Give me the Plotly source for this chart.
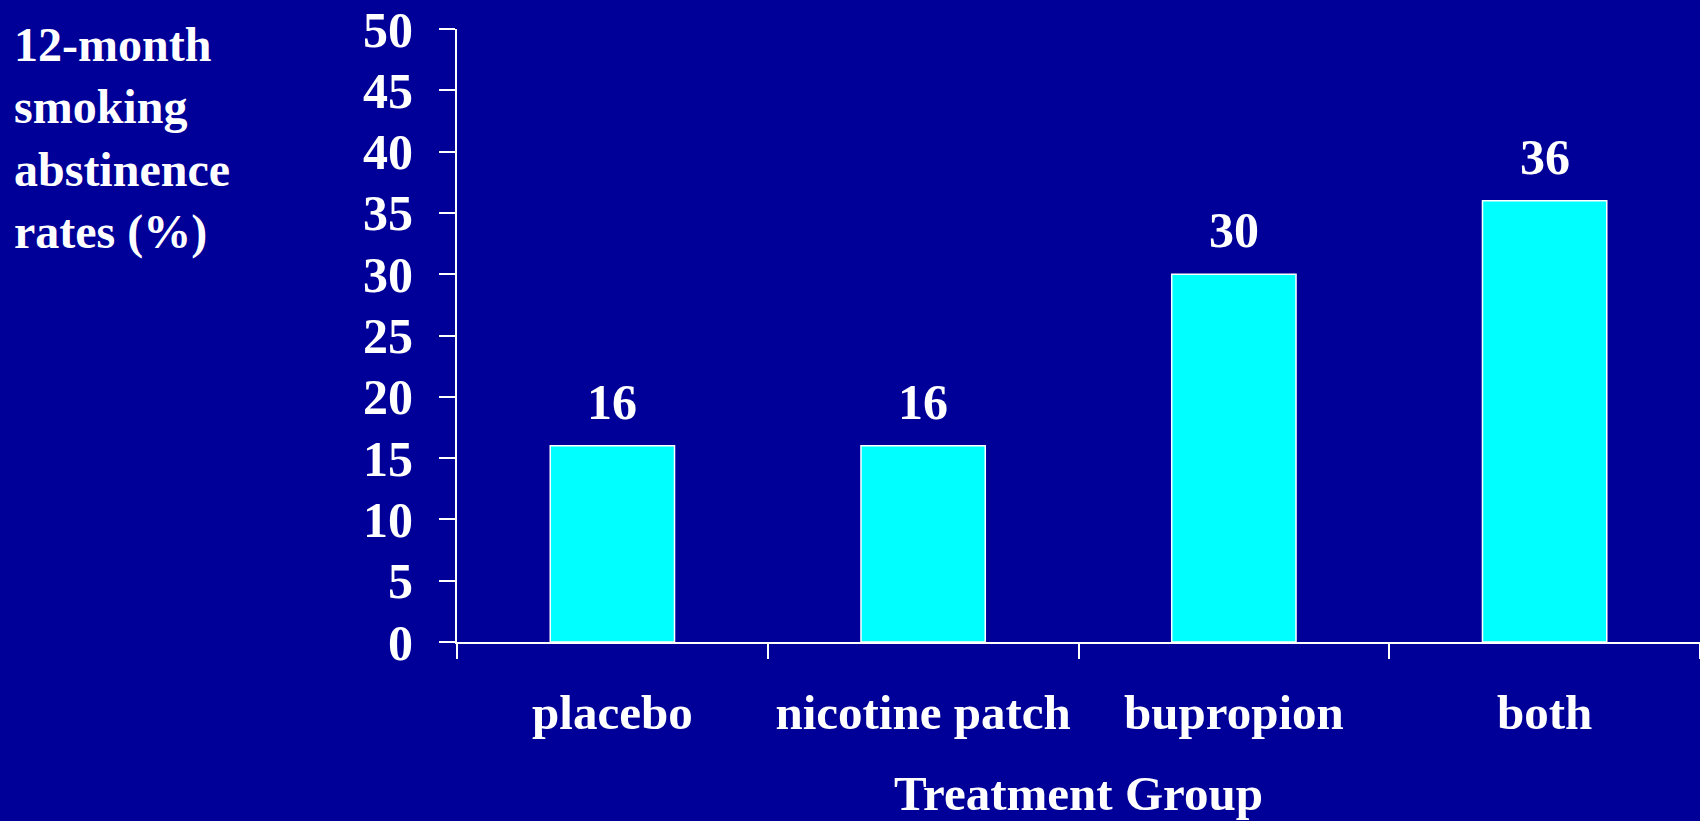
import plotly.graph_objects as go

categories = ["placebo", "nicotine patch", "bupropion", "both"]
rates = [16, 16, 30, 36]
y_ticks = [0, 5, 10, 15, 20, 25, 30, 35, 40, 45, 50]

BG = "rgb(0,0,153)"
FONT = "Liberation Serif, Times New Roman, serif"

fig = go.Figure()
fig.add_trace(go.Bar(
    x=categories, y=rates, width=0.4,
    marker=dict(color="rgb(0,255,255)", line=dict(color="white", width=1.5)),
    hoverinfo="x+y",
))

for c, v in zip(categories, rates):
    fig.add_annotation(x=c, y=v, text=f"<b>{v}</b>", showarrow=False,
                       xanchor="center", yanchor="bottom", yshift=14,
                       font=dict(family=FONT, size=50, color="white"))

fig.add_annotation(xref="paper", yref="paper", x=-0.358, y=1.021,
                   xanchor="left", yanchor="top", align="left", showarrow=False,
                   text="<b>12-month<br>smoking<br>abstinence<br>rates (%)</b>",
                   font=dict(family=FONT, size=48, color="white"))

fig.update_layout(
    width=1700, height=821,
    paper_bgcolor=BG, plot_bgcolor=BG,
    margin=dict(l=457, r=0, t=29, b=176),
    showlegend=False,
    font=dict(family=FONT, color="white"),
    bargap=0.6,
)
fig.update_xaxes(
    type="category", tickson="boundaries",
    showline=True, linecolor="white", linewidth=2,
    ticks="outside", ticklen=15, tickwidth=2, tickcolor="white",
    tickfont=dict(family=FONT, size=49, color="white"),
    ticklabelstandoff=26,
    title=dict(text="<b>Treatment Group</b>", font=dict(family=FONT, size=49, color="white"), standoff=47),
    showgrid=False, zeroline=False,
    tickprefix="<b>", ticksuffix="</b>",
)
fig.update_yaxes(
    range=[0, 50], tickvals=y_ticks, ticktext=[f"<b>{t}</b>" for t in y_ticks],
    showline=True, linecolor="white", linewidth=2,
    ticks="outside", ticklen=16, tickwidth=2, tickcolor="white",
    tickfont=dict(family=FONT, size=50, color="white"),
    ticklabelstandoff=16,
    showgrid=False, zeroline=False,
)

fig.write_html("out.html", config={"displayModeBar": False},
               post_script="document.body.style.margin='0';document.body.style.background='rgb(0,0,153)';")
